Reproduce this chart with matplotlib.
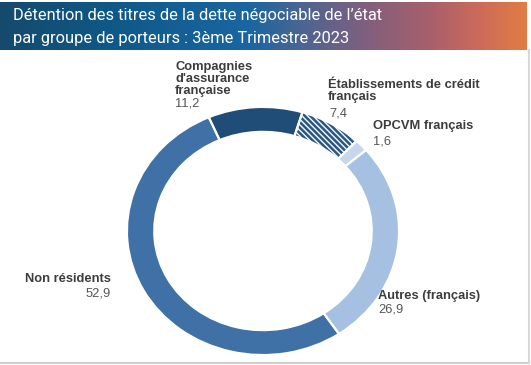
import matplotlib.pyplot as plt
import numpy as np
from matplotlib.colors import LinearSegmentedColormap

# data (clockwise from the top-left)
names = ["Compagnies\nd'assurance\nfrançaise", "Établissements de crédit\nfrançais",
         "OPCVM français", "Autres (français)", "Non résidents"]
values = [11.2, 7.4, 1.6, 26.9, 52.9]
value_labels = ["11,2", "7,4", "1,6", "26,9", "52,9"]
colors = ["#1f4d78", "#f4f7fb", "#c6d7eb", "#a5c0e0", "#3f70a6"]
hatches = [None, "\\" * 6, None, None, None]

title_lines = ["Détention des titres de la dette négociable de l’état",
               "par groupe de porteurs : 3ème Trimestre 2023"]

W, H = 531, 365
plt.rcParams["hatch.linewidth"] = 1.8
fig = plt.figure(figsize=(W / 100, H / 100), dpi=100)


def fx(x):
    return x / W


def fy(y):
    return 1 - y / H


# banner
bax = fig.add_axes([0, fy(50), fx(527), (50 - 2) / H])
cmap = LinearSegmentedColormap.from_list("banner", [
    (0.0, "#154a6c"), (0.2, "#0f5886"), (0.47, "#1966a2"), (0.57, "#4a6592"),
    (0.64, "#6a6188"), (0.73, "#8c5f78"), (0.82, "#a8606c"), (0.91, "#cc6a5a"),
    (1.0, "#e07c46")])
bax.imshow(np.linspace(0, 1, 300)[None, :], aspect="auto", cmap=cmap, extent=[0, 1, 0, 1])
bax.set_axis_off()
title_texts = []
for line, by in zip(title_lines, [20, 43]):
    t = fig.text(fx(13), fy(by), line, color="white", fontsize=13, family=["Roboto", "DejaVu Sans"],
                 va="baseline", ha="left")
    title_texts.append(t)
# fit first line to the width of the original title
fig.canvas.draw()
w = title_texts[0].get_window_extent().width
for t in title_texts:
    t.set_fontsize(13 * 368 / w)

# donut (image is stretched horizontally, so aspect is left auto)
cx, cy, rx, ry = 263, 231, 136, 124
ax = fig.add_axes([fx(cx - rx), fy(cy + ry), 2 * rx / W, 2 * ry / H])
wedges, _ = ax.pie(values, colors=colors, startangle=113.5, counterclock=False,
                   radius=1, wedgeprops=dict(width=0.2, linewidth=0))
for w_, h in zip(wedges, hatches):
    if h:
        w_.set_hatch(h)
        w_.set_edgecolor("#2a5682")
        w_.set_linewidth(0)
# white separators
ax.pie(values, colors=["none"] * len(values), startangle=113.5, counterclock=False,
       radius=1, wedgeprops=dict(width=0.2, linewidth=1.5, edgecolor="white", fill=False))
ax.set_aspect("auto")
ax.set_xlim(-1, 1)
ax.set_ylim(-1, 1)
ax.set_axis_off()

# labels (baseline of the last line of each name)
name_pos = [(175, 94), (328, 100), (373, 129), (378, 299), (111, 282)]
num_pos = [(175, 107), (329, 116), (373, 145), (378, 312), (111, 296)]
aligns = ["left", "left", "left", "left", "right"]
lab_font = ["Liberation Sans", "DejaVu Sans"]
for n, v, (nx, ny), (vx, vy), ha in zip(names, value_labels, name_pos, num_pos, aligns):
    fig.text(fx(nx), fy(ny), n, fontsize=9.3, fontweight="bold", color="#3c3c3c",
             family=lab_font, ha=ha, va="baseline", linespacing=1.0)
    fig.text(fx(vx), fy(vy), v, fontsize=9.3, color="#555555", family=lab_font,
             ha=ha, va="baseline")

# frame lines
fig.add_artist(plt.Line2D([0, fx(529)], [fy(362.5), fy(362.5)], color="#d0d0d0", lw=1.5))
fig.add_artist(plt.Line2D([fx(529), fx(529)], [fy(50), fy(362.5)], color="#d8d8d8", lw=1.5))

fig.savefig("out.png", dpi=100)
